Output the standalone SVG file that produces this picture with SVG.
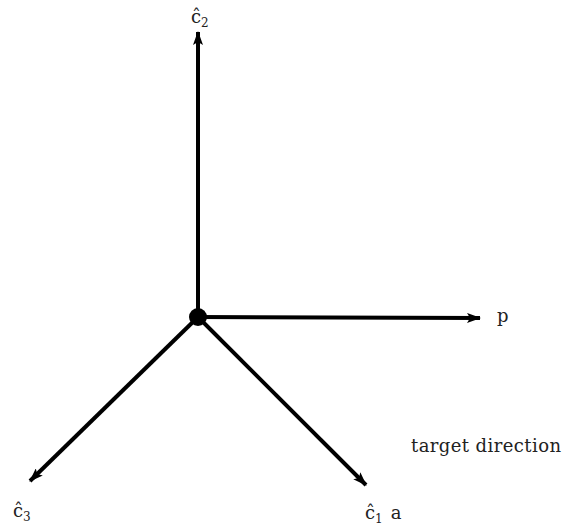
<svg xmlns="http://www.w3.org/2000/svg" width="566" height="529" viewBox="0 0 566 529">
<style>
.ax{stroke:#000;stroke-width:4;fill:none;marker-end:url(#ah)}
text{font-family:'DejaVu Serif',serif;font-size:18px;fill:#222}
.sub{font-size:12px}
</style>
<defs>
<marker id="ah" markerUnits="userSpaceOnUse" markerWidth="14" markerHeight="10" refX="13" refY="5" orient="auto">
<path d="M0,0 L14,5 L0,10 L3,5 Z" fill="#000"/>
</marker>
</defs>
<rect width="566" height="529" fill="#fff"/>
<g id="connectors">
<line class="ax" x1="198" y1="317" x2="198" y2="32"/>
<line class="ax" x1="198" y1="317" x2="480" y2="318"/>
<line class="ax" x1="198" y1="317" x2="30" y2="481"/>
<line class="ax" x1="198" y1="317" x2="366" y2="485"/>
</g>
<g id="origin"><circle cx="198" cy="317" r="9" fill="#000"/></g>
<g id="c2"><text x="191" y="23">ĉ<tspan class="sub" dy="4">2</tspan></text></g>
<g id="p"><text x="497" y="322">p</text></g>
<g id="c3"><text x="13" y="517">ĉ<tspan class="sub" dy="4">3</tspan></text></g>
<g id="c1"><text x="365" y="519">ĉ<tspan class="sub" dy="4">1</tspan><tspan dy="-4" dx="8">a</tspan></text></g>
<g id="target"><text x="411" y="452" textLength="150">target direction</text></g>
</svg>
